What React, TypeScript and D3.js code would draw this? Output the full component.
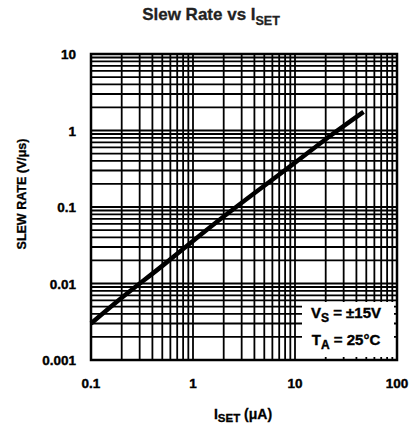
import React from "react";
import * as d3 from "d3";

const isetValues = [0.1, 0.2, 0.5, 1, 2, 5, 10, 20, 47];
const slewValues = [0.003, 0.0065, 0.017, 0.036, 0.075, 0.19, 0.38, 0.77, 1.75];
const xTickValues = [0.1, 1, 10, 100];
const xTickLabels = ["0.1", "1", "10", "100"];
const yTickValues = [0.001, 0.01, 0.1, 1, 10];
const yTickLabels = ["0.001", "0.01", "0.1", "1", "10"];

const W = 419, H = 431;
const L = 91, R = 397, T = 54, B = 360;
const FONT = "'Liberation Sans Narrow', 'Arial Narrow', 'Liberation Sans', Arial, sans-serif";

function minorGrid(lo: number, hi: number): number[] {
  const out: number[] = [];
  for (let e = Math.floor(Math.log10(lo)); e < Math.ceil(Math.log10(hi)); e++) {
    for (let k = 1; k <= 9; k++) {
      const v = k * Math.pow(10, e);
      if (v >= lo * 0.999 && v <= hi * 1.001) out.push(v);
    }
  }
  return out;
}

export default function App() {
  const x = d3.scaleLog().domain([0.1, 100]).range([L, R]);
  const y = d3.scaleLog().domain([0.001, 10]).range([B, T]);
  const xs = minorGrid(0.1, 100);
  const ys = minorGrid(0.001, 10);
  const line = d3
    .line<number>()
    .x((_, i) => x(isetValues[i]))
    .y((d) => y(d))
    .curve(d3.curveMonotoneX);
  const box = { x0: 302, y0: 302, x1: 394, y1: 357 };
  return (
    <svg width={W} height={H} style={{ position: "absolute", left: 0, top: 0, background: "#fff" }}>
      <rect x={0} y={0} width={W} height={H} fill="#fff" />
      <text x={211} y={20} textAnchor="middle" fontFamily="Arial, 'Liberation Sans', sans-serif" fontWeight="bold" fontSize={17} fill="#222" stroke="#222" strokeWidth={0.3}>
        Slew Rate vs I<tspan fontSize={12.5} dy={5}>SET</tspan>
      </text>
      <g stroke="#000" strokeWidth={1.8}>
        {xs.map((v, i) => (
          <line key={"vx" + i} x1={x(v)} x2={x(v)} y1={T} y2={B} />
        ))}
        {ys.map((v, i) => (
          <line key={"hy" + i} x1={L} x2={R} y1={y(v)} y2={y(v)} />
        ))}
      </g>
      <rect x={L} y={T} width={R - L} height={B - T} fill="none" stroke="#000" strokeWidth={2.5} />
      <path d={line(slewValues) || ""} fill="none" stroke="#000" strokeWidth={4.5} strokeLinecap="butt" />
      <rect x={box.x0} y={box.y0} width={box.x1 - box.x0} height={box.y1 - box.y0} fill="#fff" />
      <g fontFamily={FONT} fontWeight="bold" fontSize={15} fill="#000" stroke="#000" strokeWidth={0.4} textAnchor="middle">
        <text x={346} y={318}>
          V<tspan fontSize={12} dy={4}>S</tspan>
          <tspan dy={-4}> = ±15V</tspan>
        </text>
        <text x={346} y={345}>
          T<tspan fontSize={12} dy={4}>A</tspan>
          <tspan dy={-4}> = 25°C</tspan>
        </text>
      </g>
      <g fontFamily={FONT} fontWeight="bold" fontSize={13.5} fill="#000" stroke="#000" strokeWidth={0.4}>
        {yTickValues.map((v, i) => (
          <text key={"yt" + i} x={76} y={y(v) + 5} textAnchor="end">
            {yTickLabels[i]}
          </text>
        ))}
        {xTickValues.map((v, i) => (
          <text key={"xt" + i} x={x(v)} y={388} textAnchor="middle">
            {xTickLabels[i]}
          </text>
        ))}
      </g>
      <text
        transform={`translate(26,${(T + B) / 2 - 13}) rotate(-90)`}
        textAnchor="middle"
        fontFamily={FONT}
        fontWeight="bold"
        fontSize={12.5}
        fill="#000"
        stroke="#000"
        strokeWidth={0.3}
      >
        SLEW RATE (V/μs)
      </text>
      <text x={243} y={419} textAnchor="middle" fontFamily={FONT} fontWeight="bold" fontSize={14} fill="#000" stroke="#000" strokeWidth={0.3}>
        I<tspan fontSize={11.5} dy={3}>SET</tspan>
        <tspan dy={-3}> (μA)</tspan>
      </text>
    </svg>
  );
}
